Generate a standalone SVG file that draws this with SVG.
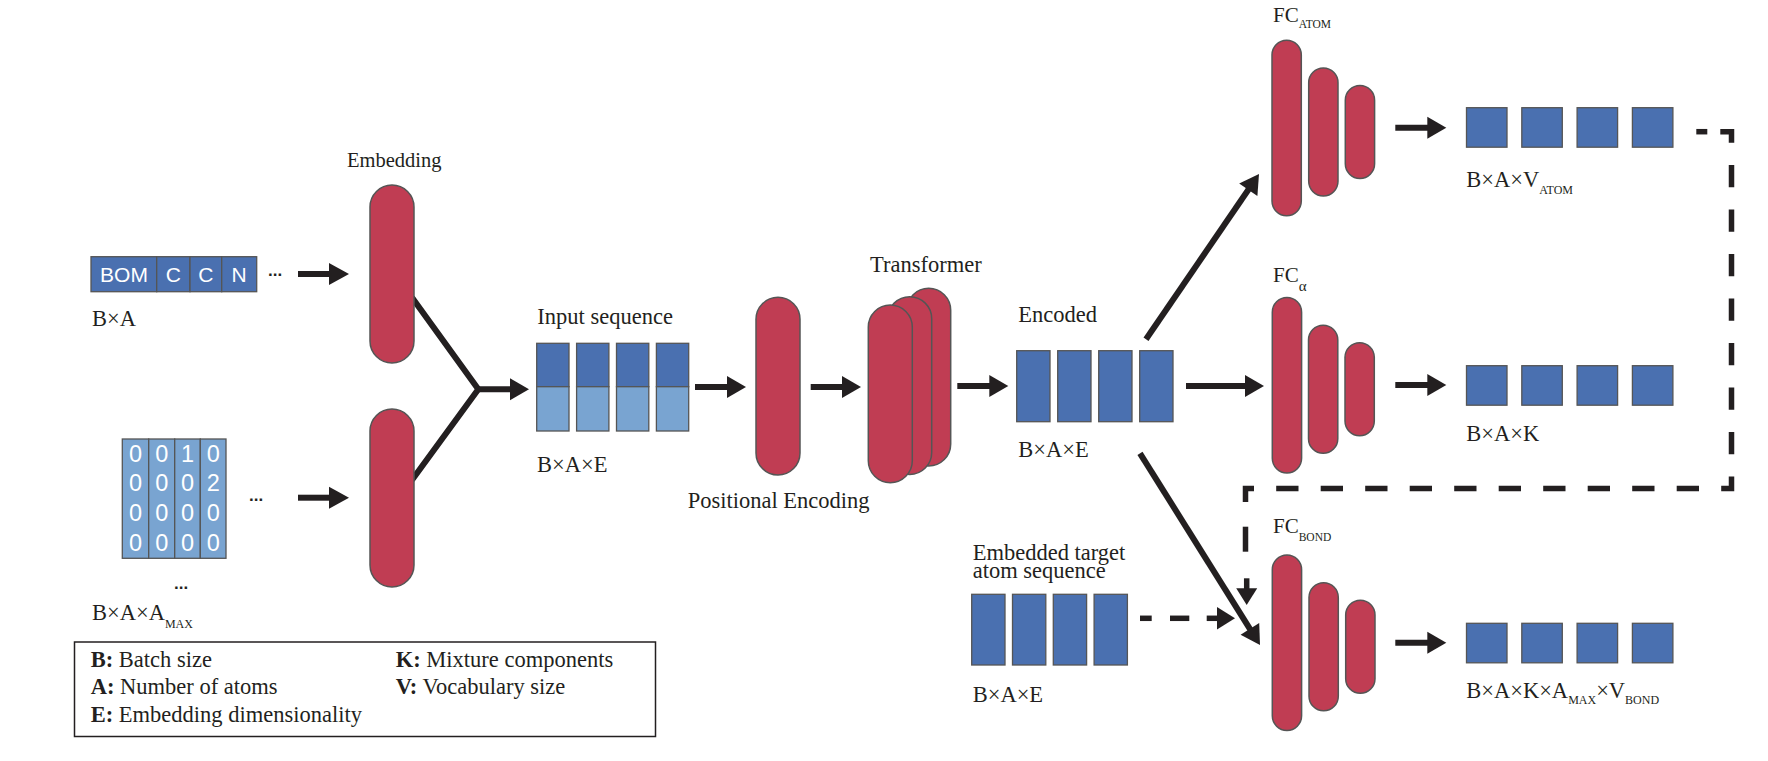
<svg xmlns="http://www.w3.org/2000/svg" width="1768" height="761" viewBox="0 0 1768 761">
<style>
.t{font-family:"Liberation Serif","Times New Roman",serif;font-size:22.5px;fill:#231f20}
.sub{font-size:12px}
.cap{fill:#c03d53;stroke:#555;stroke-width:1.5}
.cell{fill:#4a70b0;stroke:#555;stroke-width:1.3}
.lcell{fill:#79a4d1;stroke:#555;stroke-width:1.3}
.w{font-family:"Liberation Sans",Arial,sans-serif;fill:#fff;text-anchor:middle}
.ln{stroke:#231f20;stroke-width:6;fill:none}
.ds{stroke:#231f20;stroke-width:5.5;fill:none}
.hd{fill:#231f20}
.dots{font-family:"Liberation Sans",Arial,sans-serif;font-size:17px;font-weight:bold;fill:#231f20}
</style>
<rect width="1768" height="761" fill="#fff"/>

<g id="connectors">
  <line class="ln" x1="298" y1="274" x2="330" y2="274"/>
  <polygon class="hd" points="329,263 349,274 329,285"/>
  <line class="ln" x1="298" y1="497.7" x2="330" y2="497.7"/>
  <polygon class="hd" points="329,486.7 349,497.7 329,508.7"/>
  <path class="ln" d="M412,297.5 L478.3,389.3 L412,480" stroke-linejoin="miter"/>
  <line class="ln" x1="476" y1="389.3" x2="511" y2="389.3"/>
  <polygon class="hd" points="510,378.3 529,389.3 510,400.3"/>
  <line class="ln" x1="695" y1="387" x2="728" y2="387"/>
  <polygon class="hd" points="727,376 746,387 727,398"/>
  <line class="ln" x1="810.7" y1="387" x2="843" y2="387"/>
  <polygon class="hd" points="842,376 861,387 842,398"/>
  <line class="ln" x1="957.3" y1="386" x2="990" y2="386"/>
  <polygon class="hd" points="989.3,375 1008.3,386 989.3,397"/>
  <line class="ln" x1="1186" y1="386" x2="1246" y2="386"/>
  <polygon class="hd" points="1245,375 1264,386 1245,397"/>
  <line class="ln" x1="1146" y1="339.3" x2="1249" y2="188.7"/>
  <polygon class="hd" points="1257.4,195.9 1259,174 1239.2,183.5"/>
  <line class="ln" x1="1140" y1="453.3" x2="1250.5" y2="629.9"/>
  <polygon class="hd" points="1259.2,623.1 1260,645 1240.6,634.7"/>
  <line class="ln" x1="1395.3" y1="127.7" x2="1428.3" y2="127.7"/>
  <polygon class="hd" points="1427.3,116.7 1446.3,127.7 1427.3,138.7"/>
  <line class="ln" x1="1395.3" y1="385" x2="1428.3" y2="385"/>
  <polygon class="hd" points="1427.3,374 1446.3,385 1427.3,396"/>
  <line class="ln" x1="1395.3" y1="642.7" x2="1428.3" y2="642.7"/>
  <polygon class="hd" points="1427.3,631.7 1446.3,642.7 1427.3,653.7"/>
  <line class="ds" x1="1140" y1="618.3" x2="1151.7" y2="618.3"/>
  <line class="ds" x1="1170" y1="618.3" x2="1189.3" y2="618.3"/>
  <line class="ds" x1="1206.7" y1="618.3" x2="1218" y2="618.3"/>
  <polygon class="hd" points="1217,607 1235,618.3 1217,629.6"/>
  <line class="ds" x1="1696.3" y1="131.7" x2="1707.3" y2="131.7"/>
  <path class="ds" d="M1720.3,131.7 H1731.5 V488.5 H1245.5 V502" stroke-dasharray="22.3 22.2" stroke-linejoin="miter"/>
  <line class="ds" x1="1245.5" y1="526.7" x2="1245.5" y2="551.7"/>
  <line class="ds" x1="1246.7" y1="578.3" x2="1246.7" y2="589.3"/>
  <polygon class="hd" points="1236.2,588.3 1246.7,605 1257.2,588.3"/>
</g>

<g id="token-input">
  <rect class="cell" x="91" y="256.7" width="65.7" height="35"/>
  <rect class="cell" x="156.7" y="256.7" width="33.3" height="35"/>
  <rect class="cell" x="190" y="256.7" width="31.7" height="35"/>
  <rect class="cell" x="221.7" y="256.7" width="35" height="35"/>
  <text class="w" font-size="21" x="124" y="281.5">BOM</text>
  <text class="w" font-size="21" x="173.3" y="281.5">C</text>
  <text class="w" font-size="21" x="205.8" y="281.5">C</text>
  <text class="w" font-size="21" x="239.2" y="281.5">N</text>
  <text class="dots" x="268" y="276">...</text>
  <text class="t" x="92" y="325.7">B×A</text>
</g>

<g id="adjacency-input">
  <rect class="lcell" x="122.3" y="439" width="26.4" height="119.3"/>
  <rect class="lcell" x="148.7" y="439" width="26" height="119.3"/>
  <rect class="lcell" x="174.7" y="439" width="25.6" height="119.3"/>
  <rect class="lcell" x="200.3" y="439" width="25.7" height="119.3"/>
  <g class="w" font-size="23.5">
    <text x="135.5" y="462">0</text><text x="161.7" y="462">0</text><text x="187.5" y="462">1</text><text x="213.2" y="462">0</text>
    <text x="135.5" y="491.4">0</text><text x="161.7" y="491.4">0</text><text x="187.5" y="491.4">0</text><text x="213.2" y="491.4">2</text>
    <text x="135.5" y="521.2">0</text><text x="161.7" y="521.2">0</text><text x="187.5" y="521.2">0</text><text x="213.2" y="521.2">0</text>
    <text x="135.5" y="550.8">0</text><text x="161.7" y="550.8">0</text><text x="187.5" y="550.8">0</text><text x="213.2" y="550.8">0</text>
  </g>
  <text class="dots" x="249" y="500.5">...</text>
  <text class="dots" x="174" y="589">...</text>
  <text class="t" x="92" y="620">B×A×A<tspan class="sub" dy="7.5">MAX</tspan></text>
</g>

<g id="embedding">
  <text class="t" x="347" y="166.7" style="font-size:20.5px">Embedding</text>
  <rect class="cap" x="370" y="185" width="44" height="178" rx="22"/>
  <rect class="cap" x="370" y="409" width="44" height="178" rx="22"/>
</g>

<g id="input-sequence">
  <text class="t" x="537.3" y="324">Input sequence</text>
  <rect class="cell" x="536.7" y="343.3" width="32.3" height="43.4"/>
  <rect class="cell" x="576.6" y="343.3" width="32.3" height="43.4"/>
  <rect class="cell" x="616.5" y="343.3" width="32.3" height="43.4"/>
  <rect class="cell" x="656.4" y="343.3" width="32.3" height="43.4"/>
  <rect class="lcell" x="536.7" y="386.7" width="32.3" height="44.3"/>
  <rect class="lcell" x="576.6" y="386.7" width="32.3" height="44.3"/>
  <rect class="lcell" x="616.5" y="386.7" width="32.3" height="44.3"/>
  <rect class="lcell" x="656.4" y="386.7" width="32.3" height="44.3"/>
  <text class="t" x="537" y="471.7">B×A×E</text>
</g>

<g id="positional-encoding">
  <rect class="cap" x="756" y="297.3" width="44" height="177.7" rx="22"/>
  <text class="t" x="687.7" y="508.3">Positional Encoding</text>
</g>

<g id="transformer">
  <text class="t" x="870" y="271.7">Transformer</text>
  <rect class="cap" x="906.7" y="288.3" width="44" height="177.7" rx="22"/>
  <rect class="cap" x="887.7" y="296.7" width="44" height="177.7" rx="22"/>
  <rect class="cap" x="868.3" y="305" width="44" height="177.7" rx="22"/>
</g>

<g id="encoded">
  <text class="t" x="1018.3" y="322.3">Encoded</text>
  <rect class="cell" x="1016.7" y="350.7" width="33.3" height="71"/>
  <rect class="cell" x="1057.7" y="350.7" width="33.3" height="71"/>
  <rect class="cell" x="1098.7" y="350.7" width="33.3" height="71"/>
  <rect class="cell" x="1139.7" y="350.7" width="33.3" height="71"/>
  <text class="t" x="1018.3" y="456.7">B×A×E</text>
</g>

<g id="embedded-target">
  <text class="t" x="972.7" y="559.5">Embedded target<tspan x="972.7" dy="18.5">atom sequence</tspan></text>
  <rect class="cell" x="971.7" y="594.3" width="33.3" height="70.7"/>
  <rect class="cell" x="1012.5" y="594.3" width="33.3" height="70.7"/>
  <rect class="cell" x="1053.3" y="594.3" width="33.3" height="70.7"/>
  <rect class="cell" x="1094.1" y="594.3" width="33.3" height="70.7"/>
  <text class="t" x="972.7" y="701.7">B×A×E</text>
</g>

<g id="fc-atom">
  <text class="t" x="1273" y="21.7" style="font-size:21px">FC<tspan class="sub" dy="6.6" style="font-size:11.5px">ATOM</tspan></text>
  <rect class="cap" x="1272" y="40.2" width="29.3" height="175.5" rx="14.65"/>
  <rect class="cap" x="1308.7" y="68" width="29.3" height="128" rx="14.65"/>
  <rect class="cap" x="1345.3" y="85.5" width="29.3" height="93" rx="14.65"/>
</g>

<g id="atom-output">
  <rect class="cell" x="1466.5" y="107.7" width="40.5" height="39.5"/>
  <rect class="cell" x="1521.8" y="107.7" width="40.5" height="39.5"/>
  <rect class="cell" x="1577.1" y="107.7" width="40.5" height="39.5"/>
  <rect class="cell" x="1632.4" y="107.7" width="40.5" height="39.5"/>
  <text class="t" x="1466.3" y="186.7">B×A×V<tspan class="sub" dy="7.6">ATOM</tspan></text>
</g>

<g id="fc-alpha">
  <text class="t" x="1273" y="281.7" style="font-size:21px">FC<tspan dy="9" style="font-size:15px">α</tspan></text>
  <rect class="cap" x="1272.3" y="297.5" width="29.3" height="175.5" rx="14.65"/>
  <rect class="cap" x="1308.5" y="325.3" width="29.3" height="128" rx="14.65"/>
  <rect class="cap" x="1345" y="342.7" width="29.3" height="93" rx="14.65"/>
</g>

<g id="alpha-output">
  <rect class="cell" x="1466.5" y="365.7" width="40.5" height="39.5"/>
  <rect class="cell" x="1521.8" y="365.7" width="40.5" height="39.5"/>
  <rect class="cell" x="1577.1" y="365.7" width="40.5" height="39.5"/>
  <rect class="cell" x="1632.4" y="365.7" width="40.5" height="39.5"/>
  <text class="t" x="1466.3" y="441">B×A×K</text>
</g>

<g id="fc-bond">
  <text class="t" x="1273" y="533.3" style="font-size:21px">FC<tspan class="sub" dy="7.7" style="font-size:11.5px">BOND</tspan></text>
  <rect class="cap" x="1272.3" y="555" width="29.3" height="175.5" rx="14.65"/>
  <rect class="cap" x="1309" y="582.8" width="29.3" height="128" rx="14.65"/>
  <rect class="cap" x="1345.7" y="600.3" width="29.3" height="93" rx="14.65"/>
</g>

<g id="bond-output">
  <rect class="cell" x="1466.5" y="623.3" width="40.5" height="39.5"/>
  <rect class="cell" x="1521.8" y="623.3" width="40.5" height="39.5"/>
  <rect class="cell" x="1577.1" y="623.3" width="40.5" height="39.5"/>
  <rect class="cell" x="1632.4" y="623.3" width="40.5" height="39.5"/>
  <text class="t" x="1466.3" y="697.7">B×A×K×A<tspan class="sub" dy="6.6">MAX</tspan><tspan dy="-6.6">×V</tspan><tspan class="sub" dy="6.6">BOND</tspan></text>
</g>

<g id="legend">
  <rect x="74.5" y="642" width="581" height="94.5" fill="none" stroke="#231f20" stroke-width="1.5"/>
  <text class="t" x="90.7" y="666.7"><tspan font-weight="bold">B:</tspan> Batch size</text>
  <text class="t" x="90.7" y="694.3"><tspan font-weight="bold">A:</tspan> Number of atoms</text>
  <text class="t" x="90.7" y="721.7"><tspan font-weight="bold">E:</tspan> Embedding dimensionality</text>
  <text class="t" x="395.7" y="666.7"><tspan font-weight="bold">K:</tspan> Mixture components</text>
  <text class="t" x="395.7" y="694.3"><tspan font-weight="bold">V:</tspan> Vocabulary size</text>
</g>
</svg>
